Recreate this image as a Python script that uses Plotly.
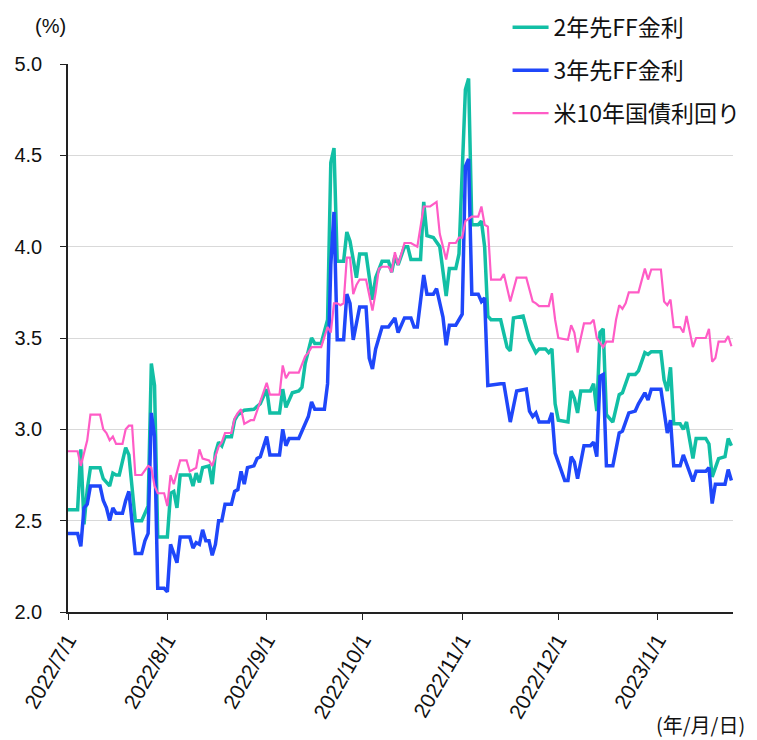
import plotly.graph_objects as go

# ---- data ----
teal_dates = ["2022-07-01","2022-07-04","2022-07-05","2022-07-06","2022-07-07","2022-07-08","2022-07-11","2022-07-12","2022-07-14","2022-07-15","2022-07-16","2022-07-17","2022-07-19","2022-07-20","2022-07-22","2022-07-24","2022-07-26","2022-07-27","2022-07-28","2022-07-29","2022-08-01","2022-08-02","2022-08-03","2022-08-04","2022-08-05","2022-08-08","2022-08-09","2022-08-10","2022-08-11","2022-08-12","2022-08-14","2022-08-15","2022-08-16","2022-08-17","2022-08-18","2022-08-19","2022-08-21","2022-08-22","2022-08-23","2022-08-25","2022-08-28","2022-08-30","2022-09-01","2022-09-02","2022-09-05","2022-09-06","2022-09-07","2022-09-09","2022-09-11","2022-09-12","2022-09-13","2022-09-15","2022-09-16","2022-09-18","2022-09-20","2022-09-21","2022-09-22","2022-09-23","2022-09-25","2022-09-26","2022-09-27","2022-09-29","2022-09-30","2022-10-02","2022-10-04","2022-10-05","2022-10-07","2022-10-09","2022-10-10","2022-10-11","2022-10-12","2022-10-14","2022-10-15","2022-10-16","2022-10-19","2022-10-20","2022-10-21","2022-10-23","2022-10-25","2022-10-26","2022-10-27","2022-10-28","2022-10-30","2022-10-31","2022-11-02","2022-11-03","2022-11-04","2022-11-06","2022-11-07","2022-11-08","2022-11-09","2022-11-10","2022-11-13","2022-11-15","2022-11-16","2022-11-17","2022-11-20","2022-11-22","2022-11-24","2022-11-25","2022-11-27","2022-11-28","2022-11-29","2022-11-30","2022-12-01","2022-12-04","2022-12-05","2022-12-06","2022-12-07","2022-12-08","2022-12-11","2022-12-12","2022-12-13","2022-12-14","2022-12-15","2022-12-16","2022-12-18","2022-12-20","2022-12-21","2022-12-23","2022-12-25","2022-12-26","2022-12-28","2022-12-29","2022-12-30","2023-01-02","2023-01-03","2023-01-04","2023-01-05","2023-01-06","2023-01-08","2023-01-09","2023-01-10","2023-01-12","2023-01-13","2023-01-16","2023-01-17","2023-01-18","2023-01-20","2023-01-22","2023-01-23","2023-01-24"]
teal_vals = [2.56,2.56,2.89,2.48,2.67,2.79,2.79,2.73,2.69,2.76,2.75,2.75,2.90,2.86,2.50,2.50,2.58,3.36,3.24,2.41,2.41,2.65,2.66,2.57,2.75,2.75,2.69,2.76,2.71,2.79,2.80,2.70,2.87,2.93,2.91,2.96,2.96,3.05,3.08,3.105,3.11,3.14,3.22,3.09,3.09,3.22,3.12,3.20,3.21,3.23,3.36,3.50,3.47,3.47,3.60,4.46,4.54,3.92,3.92,4.08,4.03,3.83,3.96,3.96,3.71,3.83,3.92,3.92,3.86,3.95,3.90,4.00,4.00,3.93,3.93,4.245,4.06,4.05,4.00,3.87,3.73,3.88,3.88,3.96,4.86,4.92,4.12,4.12,4.14,4.00,3.62,3.60,3.60,3.45,3.43,3.61,3.62,3.49,3.42,3.44,3.44,3.42,3.44,3.14,3.05,3.04,3.21,3.17,3.09,3.21,3.21,3.25,3.10,3.53,3.55,3.08,3.04,3.19,3.20,3.30,3.30,3.32,3.42,3.41,3.425,3.425,3.27,3.21,3.34,3.03,3.03,3.00,3.04,2.84,2.95,2.95,2.92,2.74,2.84,2.85,2.95,2.91]

blue_dates = ["2022-07-01","2022-07-04","2022-07-05","2022-07-06","2022-07-07","2022-07-08","2022-07-11","2022-07-12","2022-07-13","2022-07-14","2022-07-15","2022-07-16","2022-07-18","2022-07-19","2022-07-20","2022-07-22","2022-07-24","2022-07-25","2022-07-26","2022-07-27","2022-07-28","2022-07-29","2022-07-31","2022-08-01","2022-08-02","2022-08-04","2022-08-05","2022-08-08","2022-08-09","2022-08-10","2022-08-11","2022-08-12","2022-08-13","2022-08-14","2022-08-15","2022-08-16","2022-08-17","2022-08-18","2022-08-19","2022-08-21","2022-08-22","2022-08-23","2022-08-24","2022-08-25","2022-08-26","2022-08-28","2022-08-29","2022-08-30","2022-09-01","2022-09-02","2022-09-05","2022-09-06","2022-09-07","2022-09-08","2022-09-11","2022-09-13","2022-09-14","2022-09-15","2022-09-16","2022-09-19","2022-09-20","2022-09-21","2022-09-22","2022-09-23","2022-09-25","2022-09-26","2022-09-27","2022-09-28","2022-09-29","2022-09-30","2022-10-02","2022-10-03","2022-10-04","2022-10-05","2022-10-07","2022-10-09","2022-10-11","2022-10-12","2022-10-14","2022-10-16","2022-10-17","2022-10-18","2022-10-20","2022-10-21","2022-10-23","2022-10-24","2022-10-26","2022-10-27","2022-10-28","2022-10-30","2022-11-01","2022-11-02","2022-11-03","2022-11-04","2022-11-06","2022-11-07","2022-11-08","2022-11-09","2022-11-13","2022-11-14","2022-11-16","2022-11-18","2022-11-21","2022-11-22","2022-11-23","2022-11-24","2022-11-25","2022-11-28","2022-11-29","2022-11-30","2022-12-02","2022-12-03","2022-12-04","2022-12-05","2022-12-06","2022-12-07","2022-12-09","2022-12-11","2022-12-12","2022-12-13","2022-12-14","2022-12-15","2022-12-16","2022-12-18","2022-12-20","2022-12-21","2022-12-23","2022-12-25","2022-12-26","2022-12-28","2022-12-29","2022-12-30","2023-01-02","2023-01-04","2023-01-05","2023-01-06","2023-01-08","2023-01-09","2023-01-12","2023-01-13","2023-01-16","2023-01-17","2023-01-18","2023-01-19","2023-01-22","2023-01-23","2023-01-24"]
blue_vals = [2.43,2.43,2.36,2.57,2.59,2.69,2.69,2.61,2.57,2.50,2.57,2.54,2.54,2.61,2.66,2.32,2.32,2.39,2.43,3.09,2.96,2.13,2.13,2.11,2.37,2.27,2.41,2.41,2.35,2.38,2.37,2.45,2.39,2.39,2.31,2.37,2.50,2.50,2.59,2.59,2.66,2.67,2.77,2.70,2.79,2.80,2.84,2.85,2.96,2.86,2.86,3.00,2.91,2.95,2.95,3.03,3.07,3.15,3.11,3.11,3.25,3.90,4.19,3.49,3.49,3.74,3.69,3.49,3.58,3.67,3.67,3.39,3.33,3.44,3.56,3.56,3.61,3.53,3.61,3.61,3.56,3.56,3.845,3.74,3.74,3.77,3.615,3.46,3.57,3.57,3.63,4.44,4.48,3.74,3.74,3.70,3.72,3.24,3.25,3.25,3.04,3.21,3.22,3.10,3.07,3.09,3.04,3.04,3.09,2.87,2.77,2.72,2.72,2.85,2.82,2.73,2.91,2.91,2.93,2.85,3.29,3.30,2.80,2.80,2.98,2.99,3.09,3.10,3.14,3.20,3.16,3.22,3.22,2.98,3.05,2.80,2.80,2.86,2.715,2.77,2.77,2.79,2.594,2.70,2.70,2.78,2.72]

pink_dates = ["2022-07-01","2022-07-04","2022-07-05","2022-07-07","2022-07-08","2022-07-11","2022-07-12","2022-07-13","2022-07-14","2022-07-15","2022-07-16","2022-07-18","2022-07-19","2022-07-20","2022-07-21","2022-07-22","2022-07-24","2022-07-26","2022-07-27","2022-07-28","2022-07-29","2022-07-31","2022-08-01","2022-08-02","2022-08-03","2022-08-04","2022-08-05","2022-08-07","2022-08-08","2022-08-10","2022-08-11","2022-08-12","2022-08-14","2022-08-15","2022-08-17","2022-08-18","2022-08-19","2022-08-21","2022-08-22","2022-08-23","2022-08-24","2022-08-25","2022-08-27","2022-08-28","2022-08-29","2022-08-30","2022-09-01","2022-09-02","2022-09-05","2022-09-06","2022-09-07","2022-09-08","2022-09-11","2022-09-13","2022-09-14","2022-09-15","2022-09-18","2022-09-20","2022-09-21","2022-09-22","2022-09-23","2022-09-24","2022-09-25","2022-09-26","2022-09-27","2022-09-28","2022-09-29","2022-09-30","2022-10-02","2022-10-04","2022-10-05","2022-10-06","2022-10-07","2022-10-09","2022-10-10","2022-10-11","2022-10-12","2022-10-14","2022-10-16","2022-10-18","2022-10-20","2022-10-22","2022-10-24","2022-10-25","2022-10-27","2022-10-28","2022-10-30","2022-10-31","2022-11-01","2022-11-02","2022-11-04","2022-11-06","2022-11-07","2022-11-08","2022-11-09","2022-11-10","2022-11-13","2022-11-14","2022-11-16","2022-11-18","2022-11-21","2022-11-23","2022-11-24","2022-11-25","2022-11-28","2022-11-29","2022-11-30","2022-12-01","2022-12-04","2022-12-05","2022-12-06","2022-12-07","2022-12-09","2022-12-11","2022-12-12","2022-12-13","2022-12-15","2022-12-16","2022-12-18","2022-12-19","2022-12-20","2022-12-21","2022-12-22","2022-12-23","2022-12-26","2022-12-28","2022-12-29","2022-12-30","2023-01-02","2023-01-03","2023-01-04","2023-01-05","2023-01-06","2023-01-08","2023-01-09","2023-01-10","2023-01-12","2023-01-13","2023-01-16","2023-01-17","2023-01-18","2023-01-19","2023-01-20","2023-01-22","2023-01-23","2023-01-24"]
pink_vals = [2.88,2.88,2.80,2.94,3.08,3.08,3.00,2.98,2.94,2.96,2.92,2.92,3.00,3.02,3.02,2.75,2.75,2.80,2.79,2.69,2.65,2.65,2.58,2.75,2.70,2.76,2.83,2.83,2.77,2.79,2.89,2.84,2.83,2.80,2.905,2.93,2.98,2.98,3.06,3.09,3.11,3.03,3.05,3.05,3.10,3.15,3.255,3.19,3.19,3.35,3.28,3.31,3.31,3.40,3.42,3.45,3.45,3.56,3.53,3.69,3.69,3.68,3.69,3.94,3.94,3.74,3.79,3.82,3.82,3.65,3.75,3.88,3.89,3.89,3.86,3.97,3.90,4.02,4.02,4.00,4.22,4.22,4.245,4.07,3.93,4.02,4.02,4.05,4.05,4.14,4.165,4.165,4.22,4.12,4.11,3.82,3.82,3.85,3.70,3.83,3.83,3.70,3.69,3.675,3.675,3.745,3.60,3.50,3.49,3.57,3.53,3.42,3.58,3.58,3.60,3.50,3.45,3.48,3.48,3.60,3.68,3.66,3.69,3.75,3.75,3.88,3.82,3.875,3.875,3.70,3.68,3.71,3.56,3.56,3.53,3.62,3.45,3.50,3.50,3.55,3.37,3.39,3.48,3.48,3.51,3.455]

series_names = ["2年先FF金利", "3年先FF金利", "米10年国債利回り"]
series_colors = ["#12BFA5", "#1F47FA", "#FF5CC6"]
series_widths = [3.5, 3.5, 2.2]

tick_dates = ["2022-07-01","2022-08-01","2022-09-01","2022-10-01","2022-11-01","2022-12-01","2023-01-01"]
tick_labels = ["2022/7/1","2022/8/1","2022/9/1","2022/10/1","2022/11/1","2022/12/1","2023/1/1"]
y_ticks = [2.0, 2.5, 3.0, 3.5, 4.0, 4.5, 5.0]

fig = go.Figure()
for i, (xs, ys) in enumerate([(teal_dates, teal_vals), (blue_dates, blue_vals), (pink_dates, pink_vals)]):
    fig.add_trace(go.Scatter(
        x=xs, y=ys, mode="lines", name=series_names[i], legendgroup=str(i),
        line=dict(color=series_colors[i], width=series_widths[i]),
    ))

# the page adds an 8px body margin, so the figure is sized/offset to compensate
fig.update_layout(
    width=749, height=732,
    margin=dict(l=60, r=24, t=56, b=128, autoexpand=False),
    paper_bgcolor="white", plot_bgcolor="white",
    font=dict(family="Liberation Sans, Arial", color="#111111", size=20),
    showlegend=True,
    legend=dict(
        x=0.661, y=1.106, xanchor="left", yanchor="top",
        bgcolor="rgba(0,0,0,0)",
        font=dict(family="Noto Sans CJK JP", size=23, color="#111111"),
        tracegroupgap=10, itemwidth=36,
    ),
    xaxis=dict(
        type="date", automargin=False,
        range=["2022-07-01", "2023-01-24T12:00"],
        tickvals=tick_dates, ticktext=tick_labels, tickangle=-60,
        tickfont=dict(family="Liberation Sans, Arial", size=21, color="#111111"),
        showgrid=False, showline=True, linecolor="#222222", linewidth=1.5,
        ticks="outside", ticklen=6, tickcolor="#222222", zeroline=False,
    ),
    yaxis=dict(
        range=[2.0, 5.0], tickvals=y_ticks, tickformat=".1f", automargin=False,
        tickfont=dict(family="Liberation Sans, Arial", size=20, color="#111111"),
        showgrid=True, gridcolor="#D9D9D9", gridwidth=1,
        showline=True, linecolor="#222222", linewidth=1.5,
        ticks="outside", ticklen=6, tickcolor="#222222", zeroline=False,
        ticklabelstandoff=14,
    ),
    annotations=[
        dict(text="(%)", xref="paper", yref="paper", x=-0.026, y=1.069,
             xanchor="center", yanchor="middle", showarrow=False,
             font=dict(family="Liberation Sans, Arial", size=20, color="#111111")),
        dict(text="(年/月/日)", xref="paper", yref="paper", x=1.021, y=-0.206,
             xanchor="right", yanchor="middle", showarrow=False,
             font=dict(family="Noto Sans CJK JP", size=20, color="#111111")),
    ],
)

fig.write_html("out.html")
